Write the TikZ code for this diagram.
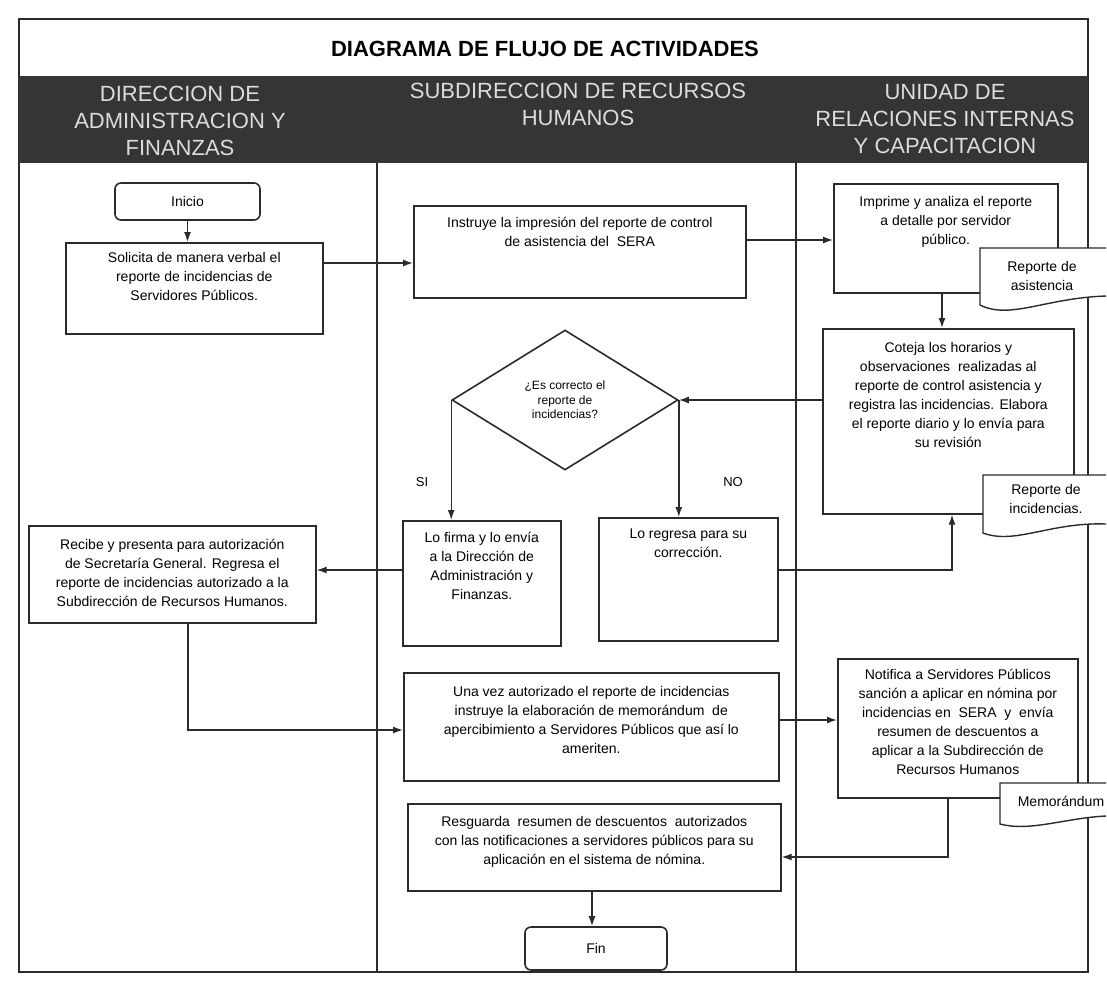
\documentclass[tikz,border=0pt]{standalone}
\usepackage{fontspec}
\setmainfont{Liberation Sans}
\usetikzlibrary{shapes.geometric,arrows.meta}
\definecolor{ink}{HTML}{2B2B2B}
\definecolor{bandc}{HTML}{353535}
\definecolor{bandtext}{HTML}{DCDCDC}
\newcommand{\bxfont}{\fontsize{14}{19}\selectfont}
\newcommand{\btext}[4]{\parbox[c][#2pt][t]{#1pt}{\centering\vspace*{#3pt}#4\par}}
\begin{document}
\begin{tikzpicture}[x=1pt,y=-1pt,
  box/.style={draw=ink,line width=1.6pt,fill=white,inner sep=0pt,anchor=north west,font=\bxfont},
  term/.style={draw=ink,line width=1.6pt,fill=white,rounded corners=6pt,inner sep=0pt,font=\bxfont},
  dec/.style={diamond,draw=ink,line width=1.6pt,fill=white,inner sep=0pt,align=center,font=\fontsize{12}{14.5}\selectfont},
  arr/.style={draw=ink,line width=1.4pt,-{Latex[length=10pt,width=7pt]}},
  lane/.style={font=\fontsize{22}{27}\selectfont,text=bandtext,align=center},
  doctext/.style={align=center,font=\bxfont},
  docshape/.style={draw=ink,line width=1.4pt,fill=white},
  lbl/.style={font=\fontsize{13}{15}\selectfont}
]
\useasboundingbox (0,0) rectangle (1107,980);
\fill[white] (0,0) rectangle (1107,980);
% frame, title, header band
\draw[ink,line width=1.7pt] (19,19) rectangle (1088,972);
\node[font=\bfseries\fontsize{22}{26}\selectfont] (title) at (545,49) {DIAGRAMA DE FLUJO DE ACTIVIDADES};
\fill[bandc] (19,76) rectangle (1088,163);
\node[lane] (laneA) at (180,121) {DIRECCION DE\\ADMINISTRACION Y\\FINANZAS};
\node[lane] (laneB) at (578,104) {SUBDIRECCION DE RECURSOS\\HUMANOS};
\node[lane] (laneC) at (945,119) {UNIDAD DE\\RELACIONES INTERNAS\\Y CAPACITACION};
\draw[ink,line width=1.7pt] (377,163) -- (377,972) (796,163) -- (796,972);
% nodes
\node[term,minimum width=145pt,minimum height=37pt] (inicio) at (187.5,201.5) {Inicio};
\node[box] (solicita) at (65,242) {\btext{257}{91}{9.5}{Solicita de manera verbal el\\reporte de incidencias de\\Servidores Públicos.}};
\node[box] (instruye) at (413,205) {\btext{332}{92}{11.5}{Instruye la impresión del reporte de control\\de asistencia del \ SERA}};
\node[box] (imprime) at (833,183) {\btext{224}{109}{12.5}{Imprime y analiza el reporte\\a detalle por servidor\\público.}};
\node[box] (coteja) at (822,328) {\btext{251}{185}{13.5}{Coteja los horarios y\\observaciones \ realizadas al\\reporte de control asistencia y\\registra las incidencias. Elabora\\el reporte diario y lo envía para\\su revisión}};
\node[dec,minimum width=226pt,minimum height=140pt] (q) at (565,400) {¿Es correcto el\\reporte de\\incidencias?};
\node[lbl] (si) at (422,482) {SI};
\node[lbl] (no) at (733,482) {NO};
\node[box] (lofirma) at (402,520) {\btext{158}{125}{11.5}{Lo firma y lo envía\\a la Dirección de\\Administración y\\Finanzas.}};
\node[box] (regresa) at (598,517) {\btext{179}{123}{11.5}{Lo regresa para su\\corrección.}};
\node[box] (recibe) at (28,525) {\btext{287}{97}{13.5}{Recibe y presenta para autorización\\de Secretaría General. Regresa el\\reporte de incidencias autorizado a la\\Subdirección de Recursos Humanos.}};
\node[box] (unavez) at (403,672) {\btext{375}{108}{13.5}{Una vez autorizado el reporte de incidencias\\instruye la elaboración de memorándum \ de\\apercibimiento a Servidores Públicos que así lo\\ameriten.}};
\node[box] (notifica) at (837,658) {\btext{240}{139}{10.5}{Notifica a Servidores Públicos\\sanción a aplicar en nómina por\\incidencias en \ SERA \ y \ envía\\resumen de descuentos a\\aplicar a la Subdirección de\\Recursos Humanos}};
\node[box] (resguarda) at (407,803) {\btext{373}{87}{12.5}{Resguarda \ resumen de descuentos \ autorizados\\con las notificaciones a servidores públicos para su\\aplicación en el sistema de nómina.}};
\node[term,minimum width=142pt,minimum height=43pt] (fin) at (596,948.5) {Fin};
% documents
\path[docshape] (1106,248) -- (980,248) -- (980,305) .. controls (1010,320) and (1045,298) .. (1106,296);
\node[doctext] (docA) at (1042,276) {Reporte de\\asistencia};
\path[docshape] (1106,475) -- (983,475) -- (983,533) .. controls (1015,545) and (1050,522) .. (1106,524);
\node[doctext] (docB) at (1046,499) {Reporte de\\incidencias.};
\path[docshape] (1106,783) -- (1000,783) -- (1000,824) .. controls (1030,832) and (1065,818) .. (1106,816);
\node[doctext] (docC) at (1061,801) {Memorándum};
% connectors
\draw[arr] (inicio.south) -- (inicio.south |- solicita.north);
\draw[arr] (solicita.east |- 0,263) -- (instruye.west |- 0,263);
\draw[arr] (instruye.east |- 0,240) -- (imprime.west |- 0,240);
\draw[arr] (942,0 |- imprime.south) -- (942,0 |- coteja.north);
\draw[arr] (coteja.west |- q.east) -- (q.east);
\draw[arr] (q.west) -- (q.west |- lofirma.north);
\draw[arr] (q.east) -- (q.east |- regresa.north);
\draw[arr] (regresa.east |- 0,570) -| (952,0 |- coteja.south);
\draw[arr] (lofirma.west |- 0,570) -- (recibe.east |- 0,570);
\draw[arr] (188,0 |- recibe.south) |- (unavez.west |- 0,730);
\draw[arr] (unavez.east |- 0,720) -- (notifica.west |- 0,720);
\draw[arr] (948,0 |- notifica.south) |- (resguarda.east |- 0,857);
\draw[arr] (592,0 |- resguarda.south) -- (592,0 |- fin.north);
\end{tikzpicture}
\end{document}
